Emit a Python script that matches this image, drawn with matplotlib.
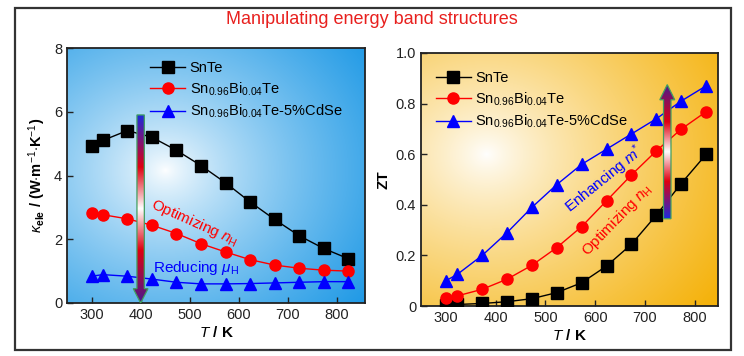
import numpy as np
import matplotlib
matplotlib.use("Agg")
import matplotlib.pyplot as plt
from matplotlib.colors import LinearSegmentedColormap
from matplotlib.patches import Polygon, Rectangle

plt.rcParams['font.family'] = ['Liberation Sans', 'DejaVu Sans']
plt.rcParams['mathtext.fontset'] = 'custom'
plt.rcParams['mathtext.rm'] = 'Liberation Sans'
plt.rcParams['mathtext.it'] = 'Liberation Sans:italic'
plt.rcParams['mathtext.bf'] = 'Liberation Sans:bold'

# ---------------- data ----------------
T = [300, 323, 373, 423, 473, 523, 573, 623, 673, 723, 773, 823]
labels = ["SnTe", r"Sn$_{0.96}$Bi$_{0.04}$Te", r"Sn$_{0.96}$Bi$_{0.04}$Te-5%CdSe"]

kele_snte = [4.92, 5.10, 5.41, 5.20, 4.79, 4.31, 3.77, 3.17, 2.62, 2.11, 1.71, 1.39]
kele_bi = [2.82, 2.77, 2.64, 2.44, 2.18, 1.86, 1.60, 1.36, 1.19, 1.09, 1.03, 1.00]
kele_cdse = [0.84, 0.89, 0.84, 0.75, 0.65, 0.60, 0.60, 0.61, 0.63, 0.65, 0.67, 0.67]

zt_snte = [0.003, 0.006, 0.01, 0.017, 0.029, 0.053, 0.092, 0.158, 0.244, 0.359, 0.484, 0.599]
zt_bi = [0.033, 0.040, 0.066, 0.106, 0.161, 0.231, 0.314, 0.416, 0.518, 0.613, 0.699, 0.768]
zt_cdse = [0.10, 0.125, 0.20, 0.29, 0.39, 0.48, 0.56, 0.62, 0.68, 0.74, 0.81, 0.87]

colors = ['black', 'red', 'blue']
markers = ['s', 'o', '^']

W, H = 744, 356
fig = plt.figure(figsize=(W / 100, H / 100), dpi=100)

# outer frame
fig.patches.append(Rectangle((15 / W, 1 - 350 / H), (731 - 15) / W, (350 - 8) / H,
                             transform=fig.transFigure, fill=False,
                             edgecolor='#333333', linewidth=1.6, zorder=0))

fig.text(0.5, 1 - 20 / H, "Manipulating energy band structures", color='#e8201e',
         fontsize=13, ha='center', va='center')


def px_axes(l, t, r, b):
    return fig.add_axes([l / W, 1 - b / H, (r - l) / W, (b - t) / H])


axL = px_axes(67, 48, 365, 303)
axR = px_axes(421, 53, 718, 306)


def radial_bg(ax, cx, cy, rx, ry, edge, power=1.0):
    n = 300
    x = np.linspace(0, 1, n)
    y = np.linspace(0, 1, n)
    X, Y = np.meshgrid(x, y)
    d = np.sqrt(((X - cx) / rx) ** 2 + ((Y - cy) / ry) ** 2)
    d = np.clip(d, 0, 1) ** power
    edge = np.array(edge)
    img = (1 - d)[..., None] * np.array([1, 1, 1]) + d[..., None] * edge
    ax.imshow(img, extent=[0, 1, 0, 1], transform=ax.transAxes, origin='lower',
              aspect='auto', zorder=0, interpolation='bilinear')


radial_bg(axL, 0.33, 0.52, 0.85, 0.85, (0.12, 0.60, 0.90), power=0.75)
radial_bg(axR, 0.22, 0.60, 0.95, 0.95, (0.96, 0.70, 0.05), power=0.8)

for ax, ys in ((axL, (kele_snte, kele_bi, kele_cdse)), (axR, (zt_snte, zt_bi, zt_cdse))):
    for y, c, m, lab in zip(ys, colors, markers, labels):
        ax.plot(T, y, color=c, marker=m, markersize=8 if m != '^' else 9,
                markerfacecolor=c, markeredgecolor=c, linewidth=1.0,
                label=lab, zorder=3)

for ax in (axL, axR):
    ax.tick_params(direction='in', labelsize=10.5, length=4, width=1, colors='#222222')
    for s in ax.spines.values():
        s.set_linewidth(1.3)
        s.set_color('#222222')

axL.set_xlabel(r"$\mathbf{\mathit{T}}$ / K", fontsize=11, fontweight='bold', labelpad=2)
axR.set_xlabel(r"$\mathbf{\mathit{T}}$ / K", fontsize=11, fontweight='bold', labelpad=2)
axL.set_ylabel(r"$\mathbf{\mathit{\kappa}}_{\mathbf{ele}}$ / (W$\cdot$m$^{-1}$$\cdot$K$^{-1}$)",
               fontsize=10.5, fontweight='bold', labelpad=4)
axR.set_ylabel("ZT", fontsize=11, fontweight='bold', labelpad=4)

legL = axL.legend(loc='upper left', bbox_to_anchor=(0.26, 0.97), frameon=False,
                  fontsize=10.5, handlelength=2.4, handletextpad=0.3,
                  labelspacing=0.35, borderaxespad=0)
legR = axR.legend(loc='upper left', bbox_to_anchor=(0.03, 0.95), frameon=False,
                  fontsize=10.5, handlelength=2.4, handletextpad=0.3,
                  labelspacing=0.35, borderaxespad=0)

# gradient arrows
arrow_cmap = LinearSegmentedColormap.from_list(
    'arr', [(0.0, '#1a2ae0'), (0.28, '#e00010'), (0.5, '#ffffff'),
            (0.72, '#e00010'), (1.0, '#4a1a90')])


def grad_arrow(ax, x, y0, y1, shaft_w, head_w, head_l):
    d = 1 if y1 > y0 else -1
    yh = y1 - d * head_l
    pts = [(x - shaft_w / 2, y0), (x + shaft_w / 2, y0), (x + shaft_w / 2, yh),
           (x + head_w / 2, yh), (x, y1), (x - head_w / 2, yh), (x - shaft_w / 2, yh)]
    poly = Polygon(pts, closed=True, facecolor='none', edgecolor='#40a060',
                   linewidth=0.9, zorder=6)
    ax.add_patch(poly)
    lo, hi = min(y0, y1), max(y0, y1)
    grad = np.linspace(0, 1, 256)[:, None]
    if d < 0:
        grad = grad[::-1]
    im = ax.imshow(grad, cmap=arrow_cmap, vmin=0, vmax=1, aspect='auto',
                   extent=[x - head_w / 2, x + head_w / 2, lo, hi],
                   origin='lower', zorder=5, interpolation='bilinear')
    im.set_clip_path(poly)


grad_arrow(axL, 400, 5.9, 0.0, 15, 30, 0.45)
grad_arrow(axR, 745, 0.345, 0.875, 15, 30, 0.06)

axL.set_xlim(250, 857)
axL.set_ylim(0, 8)
axL.set_xticks([300, 400, 500, 600, 700, 800])
axL.set_yticks([0, 2, 4, 6, 8])
axR.set_xlim(250, 847)
axR.set_ylim(0, 1.0)
axR.set_xticks([300, 400, 500, 600, 700, 800])
axR.set_yticks([0, 0.2, 0.4, 0.6, 0.8, 1.0])
axR.set_yticklabels(['0', '0.2', '0.4', '0.6', '0.8', '1.0'])

axL.text(509, 2.53, r"Optimizing $n_{\mathrm{H}}$", color='red', fontsize=11,
         rotation=-24, ha='center', va='center', zorder=4)
axL.text(512, 1.1, r"Reducing $\mu_{\mathrm{H}}$", color='blue', fontsize=11,
         ha='center', va='center', zorder=4)
axR.text(618, 0.50, r"Enhancing $m^{\mathrm{*}}$", color='blue', fontsize=11,
         rotation=39, ha='center', va='center', zorder=4)
axR.text(645, 0.34, r"Optimizing $n_{\mathrm{H}}$", color='red', fontsize=11,
         rotation=46, ha='center', va='center', zorder=4)

fig.savefig("out.png", dpi=100)
